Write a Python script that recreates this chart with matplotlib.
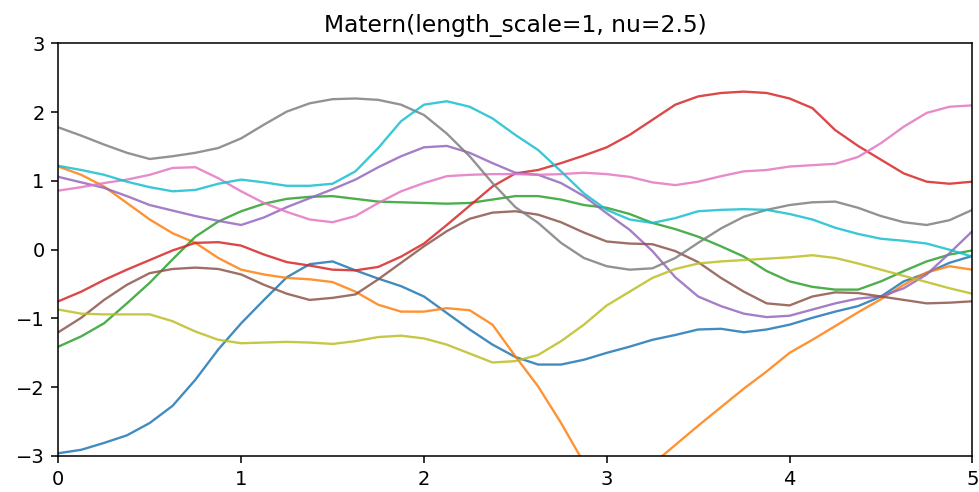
import matplotlib
matplotlib.use("Agg")
import matplotlib.pyplot as plt
import numpy as np

# sample paths drawn from a GP prior, read at x = 0, 0.125, ..., 5
x = np.linspace(0, 5, 41)

s0 = [-2.96, -2.91, -2.81, -2.70, -2.52, -2.27, -1.89, -1.45, -1.07, -0.73,
      -0.40, -0.21, -0.17, -0.30, -0.42, -0.53, -0.68, -0.92, -1.16, -1.38,
      -1.56, -1.67, -1.67, -1.60, -1.50, -1.41, -1.31, -1.24, -1.16, -1.15,
      -1.20, -1.16, -1.09, -0.99, -0.90, -0.82, -0.68, -0.46, -0.34, -0.19,
      -0.09]
s1 = [1.21, 1.09, 0.92, 0.68, 0.44, 0.24, 0.10, -0.12, -0.29, -0.36,
      -0.41, -0.43, -0.47, -0.61, -0.80, -0.90, -0.90, -0.85, -0.88, -1.09,
      -1.55, -1.99, -2.52, -3.10, -3.45, -3.45, -3.12, -2.84, -2.56, -2.29,
      -2.02, -1.77, -1.50, -1.31, -1.11, -0.91, -0.72, -0.51, -0.33, -0.24,
      -0.29]
s2 = [-1.41, -1.26, -1.07, -0.78, -0.48, -0.14, 0.19, 0.41, 0.56, 0.67,
      0.74, 0.77, 0.78, 0.74, 0.70, 0.69, 0.68, 0.67, 0.68, 0.73,
      0.78, 0.78, 0.73, 0.65, 0.61, 0.52, 0.39, 0.30, 0.19, 0.05,
      -0.10, -0.31, -0.46, -0.54, -0.58, -0.58, -0.46, -0.31, -0.17, -0.07,
      -0.01]
s3 = [-0.75, -0.61, -0.44, -0.29, -0.15, -0.01, 0.10, 0.11, 0.06, -0.07,
      -0.18, -0.23, -0.29, -0.30, -0.25, -0.10, 0.09, 0.36, 0.64, 0.92,
      1.11, 1.16, 1.26, 1.37, 1.49, 1.67, 1.89, 2.11, 2.23, 2.28,
      2.30, 2.28, 2.20, 2.06, 1.74, 1.51, 1.31, 1.11, 0.99, 0.96,
      0.99]
s4 = [1.06, 0.98, 0.90, 0.78, 0.65, 0.57, 0.49, 0.42, 0.36, 0.47,
      0.62, 0.75, 0.88, 1.02, 1.20, 1.36, 1.49, 1.51, 1.41, 1.26,
      1.12, 1.09, 0.97, 0.78, 0.53, 0.29, -0.02, -0.40, -0.68, -0.82,
      -0.93, -0.98, -0.96, -0.87, -0.78, -0.71, -0.68, -0.56, -0.36, -0.05,
      0.27]
s5 = [-1.20, -0.99, -0.73, -0.51, -0.34, -0.28, -0.26, -0.28, -0.36, -0.51,
      -0.64, -0.73, -0.70, -0.65, -0.43, -0.19, 0.05, 0.27, 0.45, 0.54,
      0.56, 0.51, 0.40, 0.25, 0.12, 0.09, 0.08, -0.02, -0.18, -0.41,
      -0.61, -0.78, -0.81, -0.68, -0.62, -0.63, -0.68, -0.73, -0.78, -0.77,
      -0.75]
s6 = [0.86, 0.91, 0.97, 1.02, 1.09, 1.19, 1.20, 1.04, 0.85, 0.68,
      0.55, 0.44, 0.40, 0.49, 0.68, 0.85, 0.97, 1.07, 1.09, 1.10,
      1.10, 1.09, 1.10, 1.12, 1.10, 1.06, 0.98, 0.94, 0.99, 1.07,
      1.14, 1.16, 1.21, 1.23, 1.25, 1.35, 1.55, 1.79, 1.99, 2.08,
      2.10]
s7 = [1.78, 1.66, 1.53, 1.41, 1.32, 1.36, 1.41, 1.48, 1.62, 1.82,
      2.01, 2.13, 2.19, 2.20, 2.18, 2.11, 1.96, 1.69, 1.36, 0.97,
      0.62, 0.39, 0.10, -0.12, -0.24, -0.29, -0.27, -0.12, 0.10, 0.31,
      0.48, 0.58, 0.65, 0.69, 0.70, 0.61, 0.49, 0.40, 0.36, 0.43,
      0.58]
s8 = [-0.87, -0.93, -0.94, -0.94, -0.94, -1.04, -1.19, -1.31, -1.36, -1.35,
      -1.34, -1.35, -1.37, -1.33, -1.27, -1.25, -1.29, -1.38, -1.51, -1.64,
      -1.62, -1.53, -1.33, -1.09, -0.81, -0.61, -0.41, -0.28, -0.20, -0.17,
      -0.15, -0.13, -0.11, -0.08, -0.12, -0.20, -0.29, -0.38, -0.47, -0.56,
      -0.64]
s9 = [1.22, 1.16, 1.09, 0.99, 0.91, 0.85, 0.87, 0.96, 1.02, 0.98,
      0.93, 0.93, 0.96, 1.14, 1.48, 1.87, 2.11, 2.16, 2.08, 1.91,
      1.67, 1.45, 1.14, 0.82, 0.58, 0.44, 0.39, 0.46, 0.56, 0.58,
      0.59, 0.58, 0.52, 0.44, 0.32, 0.23, 0.16, 0.13, 0.09, 0.00,
      -0.10]

samples = [s0, s1, s2, s3, s4, s5, s6, s7, s8, s9]

dpi = 140
fig = plt.figure(figsize=(979 / dpi, 492 / dpi), dpi=dpi)
ax = fig.add_axes([0.0596, 0.0732, 0.9336, 0.8384])

for s in samples:
    ax.plot(x, s, lw=1.2, alpha=0.85)

ax.set_xlim(0, 5)
ax.set_ylim(-3, 3)
ax.set_title("Matern(length_scale=1, nu=2.5)")

fig.savefig("out.png", dpi=dpi)
